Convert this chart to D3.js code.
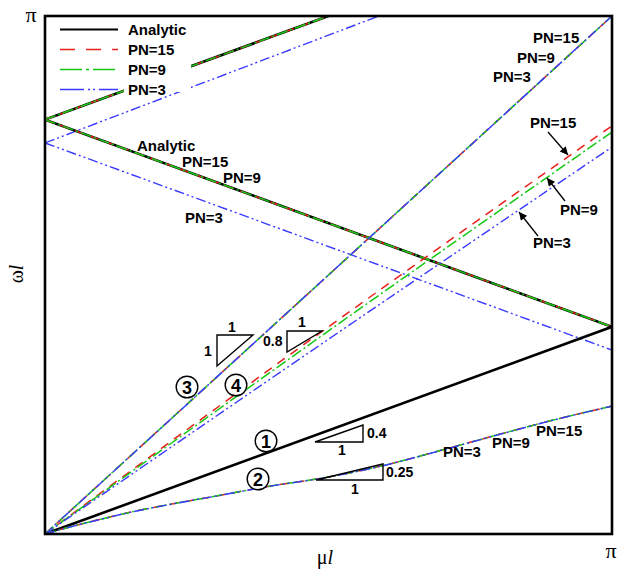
<!DOCTYPE html>
<html><head><meta charset="utf-8">
<script src="https://cdn.jsdelivr.net/npm/d3@7"></script>
<style>
body{margin:0;background:#fff;}
svg{display:block;}
.lab{font-family:"Liberation Sans",Arial,sans-serif;font-weight:bold;}
.ser{font-family:"Liberation Serif","Times New Roman",serif;}
</style></head>
<body>
<svg id="chart" width="622" height="575"></svg>
<script>
// ---- data (values in units of pi) ----
const seriesNames = ["Analytic", "PN=15", "PN=9", "PN=3"];
// branch 1 (analytic, slope 0.4)
const b1Mu = [0, 1];
const b1Analytic = [0, 0.4];
// branch 2 (curve, slope ~0.25)
const b2Mu = [0, 0.05, 0.1, 0.15, 0.2, 0.3, 0.4, 0.5, 0.6, 0.7, 0.8, 0.9, 1.0];
const b2PN15 = [0, 0.0154, 0.029, 0.042, 0.053, 0.073, 0.093, 0.110, 0.133, 0.162, 0.192, 0.221, 0.247];
const b2PN9  = [0, 0.0154, 0.029, 0.042, 0.053, 0.073, 0.093, 0.110, 0.133, 0.162, 0.192, 0.221, 0.247];
const b2PN3  = [0, 0.0152, 0.0288, 0.0418, 0.0528, 0.0728, 0.0928, 0.1098, 0.1328, 0.1618, 0.1918, 0.2208, 0.2468];
// branch 3 (slope 1)
const b3Mu = [0, 1];
const b3PN = [0, 1];
// branch 4 (slope ~0.8)
const b4Mu = [0, 0.5, 1];
const b4PN15 = [0, 0.400, 0.788];
const b4PN9  = [0, 0.392, 0.776];
const b4PN3  = [0, 0.376, 0.747];
// upper branches
const upDownMu = [0, 1];
const upDownAnalytic = [0.8, 0.4];
const upDownPN3 = [0.755, 0.355];
const upUpMu = [0, 0.5];
const upUpAnalytic = [0.8, 1.0];
const upUpPN3Mu = [0, 0.589];
const upUpPN3 = [0.755, 1.0];

const W = 622, H = 575;
const m = {left: 45, top: 16, right: 10, bottom: 41};
const pw = W - m.left - m.right, ph = H - m.top - m.bottom;
const x = d3.scaleLinear().domain([0, Math.PI]).range([0, pw]);
const y = d3.scaleLinear().domain([0, Math.PI]).range([ph, 0]);

const svg = d3.select("#chart");
const g = svg.append("g").attr("transform", `translate(${m.left},${m.top})`);
svg.append("defs").append("clipPath").attr("id", "clip")
  .append("rect").attr("width", pw).attr("height", ph);
const defs = svg.select("defs");
defs.append("marker").attr("id", "arr").attr("viewBox", "0 0 10 10")
  .attr("refX", 10).attr("refY", 5).attr("markerWidth", 12).attr("markerHeight", 8)
  .attr("markerUnits", "userSpaceOnUse").attr("orient", "auto")
  .append("path").attr("d", "M0,0 L10,5 L0,10 z").attr("fill", "#000");

const styles = {
  "Analytic": {stroke: "#000", width: 2.6, dash: null},
  "PN=15": {stroke: "#e8201a", width: 1.5, dash: "9,7"},
  "PN=9": {stroke: "#14c814", width: 1.5, dash: "11,3,2,3"},
  "PN=3": {stroke: "#3a3aff", width: 1.4, dash: "10,3,2,3,2,3"}
};
const line = d3.line().curve(d3.curveMonotoneX)
  .x(d => x(d[0] * Math.PI)).y(d => y(d[1] * Math.PI));
const plot = g.append("g").attr("clip-path", "url(#clip)");
function draw(mu, om, name) {
  const s = styles[name];
  plot.append("path").datum(mu.map((v, i) => [v, om[i]]))
    .attr("d", line).attr("fill", "none").attr("stroke", s.stroke)
    .attr("stroke-width", s.width).attr("stroke-dasharray", s.dash);
}
// upper branches
draw(upDownMu, upDownPN3, "PN=3");
draw(upUpPN3Mu, upUpPN3, "PN=3");
draw(upDownMu, upDownAnalytic, "Analytic");
draw(upUpMu, upUpAnalytic, "Analytic");
draw(upDownMu, upDownAnalytic, "PN=15");
draw(upUpMu, upUpAnalytic, "PN=15");
draw(upDownMu, upDownAnalytic, "PN=9");
draw(upUpMu, upUpAnalytic, "PN=9");
// branch 1
draw(b1Mu, b1Analytic, "Analytic");
// branch 2
draw(b2Mu, b2PN15, "PN=15");
draw(b2Mu, b2PN9, "PN=9");
draw(b2Mu, b2PN3, "PN=3");
// branch 3
draw(b3Mu, b3PN, "PN=15");
draw(b3Mu, b3PN, "PN=9");
draw(b3Mu, b3PN, "PN=3");
// branch 4
draw(b4Mu, b4PN15, "PN=15");
draw(b4Mu, b4PN9, "PN=9");
draw(b4Mu, b4PN3, "PN=3");

// legend
const leg = g.append("g");
leg.append("rect").attr("x", 79).attr("y", 3).attr("width", 67).attr("height", 73).attr("fill", "#fff");
seriesNames.forEach((n, i) => {
  const yy = 13.5 + i * 20;
  const s = styles[n];
  leg.append("line").attr("x1", 15).attr("x2", 73).attr("y1", yy).attr("y2", yy)
    .attr("stroke", s.stroke).attr("stroke-width", n === "Analytic" ? 2 : 1.5)
    .attr("stroke-dasharray", n === "Analytic" ? null : (n === "PN=15" ? "15,11" : (n === "PN=9" ? "22,4,3,4" : "24,4,2,3,2,4")));
  leg.append("text").attr("class", "lab").attr("x", 83).attr("y", yy + 5.5)
    .attr("font-size", 15).text(n);
});

// frame
g.append("rect").attr("width", pw).attr("height", ph).attr("fill", "none")
  .attr("stroke", "#000").attr("stroke-width", 2.6);

// annotation text (absolute coords)
const ann = svg.append("g");
function t(txt, xx, yy, size) {
  ann.append("text").attr("class", "lab").attr("x", xx).attr("y", yy)
    .attr("font-size", size || 15).text(txt);
}
t("Analytic", 137, 151); t("PN=15", 182, 167); t("PN=9", 223, 183); t("PN=3", 185, 223);
t("PN=15", 533, 43); t("PN=9", 517, 63); t("PN=3", 493, 82);
t("PN=15", 530, 128); t("PN=9", 560, 215); t("PN=3", 533, 248);
t("PN=3", 443, 457); t("PN=9", 492, 448); t("PN=15", 536, 436);
// arrows
function arrow(x1, y1, x2, y2) {
  ann.append("line").attr("x1", x1).attr("y1", y1).attr("x2", x2).attr("y2", y2)
    .attr("stroke", "#000").attr("stroke-width", 1.3).attr("marker-end", "url(#arr)");
}
arrow(548, 132, 568, 155);
arrow(565, 201, 547, 178);
arrow(538, 236, 519, 212);

// slope triangles
function tri(pts) {
  ann.append("path").attr("d", "M" + pts.map(p => p.join(",")).join("L") + "Z")
    .attr("fill", "none").attr("stroke", "#000").attr("stroke-width", 1.4);
}
tri([[217, 335], [253, 335], [217, 366]]);
tri([[287, 331], [322, 331], [287, 352]]);
tri([[315, 442], [363, 442], [363, 425]]);
tri([[316, 480], [383, 480], [383, 464]]);
t("1", 228, 332, 14); t("1", 204, 356, 14);
t("1", 298, 327, 14); t("0.8", 263, 346, 14);
t("0.4", 367, 438, 14); t("1", 338, 455, 14);
t("0.25", 386, 477, 14); t("1", 351, 494, 14);

// circled numbers
function circ(n, cx, cy) {
  ann.append("circle").attr("cx", cx).attr("cy", cy).attr("r", 10.8)
    .attr("fill", "#fff").attr("stroke", "#000").attr("stroke-width", 1.4);
  ann.append("text").attr("class", "lab").attr("x", cx).attr("y", cy + 6.5)
    .attr("text-anchor", "middle").attr("font-size", 18).text(n);
}
circ("1", 266, 441); circ("2", 258, 479); circ("3", 187, 387); circ("4", 236, 385);

// axis labels
svg.append("text").attr("class", "ser").attr("x", 31).attr("y", 22).attr("font-size", 22)
  .attr("text-anchor", "middle").text("π");
svg.append("text").attr("class", "ser").attr("x", 611).attr("y", 558).attr("font-size", 22)
  .attr("text-anchor", "middle").text("π");
const xl = svg.append("text").attr("class", "ser").attr("x", 325).attr("y", 564).attr("font-size", 20)
  .attr("text-anchor", "middle");
xl.append("tspan").text("μ");
xl.append("tspan").attr("font-style", "italic").text("l");
const yl = svg.append("text").attr("class", "ser").attr("transform", "translate(23,274) rotate(-90)")
  .attr("font-size", 20).attr("text-anchor", "middle");
yl.append("tspan").text("ω");
yl.append("tspan").attr("font-style", "italic").text("l");
</script>
</body></html>
